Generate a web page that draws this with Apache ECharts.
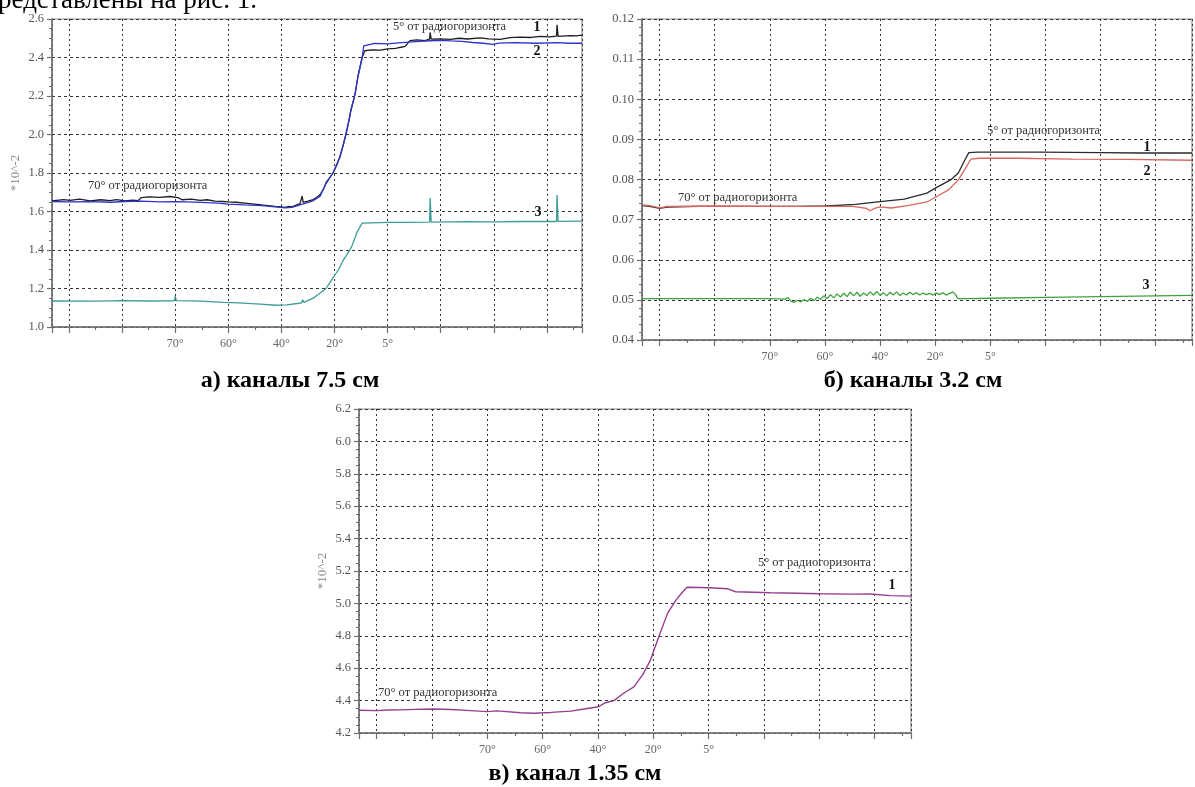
<!DOCTYPE html>
<html>
<head>
<meta charset="utf-8">
<script src="https://cdn.jsdelivr.net/npm/echarts@6/dist/echarts.min.js"></script>
<style>
  html, body { margin: 0; padding: 0; background: #fff; }
  #chart { width: 1195px; height: 787px; }
</style>
</head>
<body>
<div id="chart"></div>
<script>
// ---------- DATA ----------
// x values are grid-line indices (0..9); labelled grid lines below
const xTickLabels = ['', '', '70°', '60°', '40°', '20°', '5°', '', '', ''];

// а) 7.5 cm channels
const a1 = [[-0.32,1.655],[-0.1,1.662],[0.02,1.658],[0.2,1.664],[0.4,1.655],[0.6,1.661],[0.77,1.657],[0.9,1.662],[1.05,1.655],[1.2,1.659],[1.3,1.656],[1.36,1.672],[1.5,1.676],[1.71,1.673],[1.9,1.678],[2.05,1.672],[2.13,1.661],[2.3,1.664],[2.47,1.658],[2.6,1.661],[2.75,1.654],[2.9,1.652],[3.0,1.65],[3.15,1.648],[3.31,1.644],[3.45,1.64],[3.63,1.634],[3.75,1.631],[3.88,1.627],[4.0,1.624],[4.07,1.621],[4.15,1.626],[4.2,1.624],[4.3,1.636],[4.35,1.641],[4.38,1.645],[4.39,1.68],[4.41,1.648],[4.5,1.654],[4.58,1.66],[4.66,1.672],[4.73,1.688],[4.8,1.72],[4.84,1.75],[4.9,1.772],[4.97,1.80],[5.04,1.84],[5.10,1.885],[5.16,1.94],[5.22,2.01],[5.27,2.07],[5.31,2.13],[5.35,2.17],[5.39,2.215],[5.44,2.30],[5.48,2.35],[5.52,2.40],[5.57,2.435],[5.7,2.44],[5.86,2.438],[6.0,2.445],[6.15,2.447],[6.23,2.452],[6.33,2.458],[6.42,2.488],[6.55,2.492],[6.7,2.488],[6.79,2.496],[6.8,2.53],[6.82,2.495],[7.0,2.497],[7.18,2.494],[7.35,2.5],[7.5,2.496],[7.74,2.502],[7.9,2.497],[8.12,2.494],[8.3,2.503],[8.49,2.506],[8.7,2.504],[8.87,2.51],[9.05,2.507],[9.18,2.511],[9.19,2.57],[9.21,2.51],[9.44,2.514],[9.55,2.512],[9.66,2.516]];
const a2 = [[-0.32,1.652],[0.0,1.65],[0.4,1.651],[0.8,1.648],[1.05,1.652],[1.36,1.654],[1.7,1.65],[2.05,1.651],[2.5,1.647],[2.8,1.643],[3.0,1.638],[3.3,1.634],[3.63,1.63],[3.88,1.624],[4.07,1.619],[4.2,1.621],[4.35,1.634],[4.58,1.654],[4.73,1.68],[4.84,1.745],[4.97,1.80],[5.10,1.88],[5.22,2.005],[5.31,2.125],[5.39,2.215],[5.44,2.30],[5.52,2.40],[5.55,2.46],[5.57,2.47],[5.75,2.473],[6.0,2.471],[6.2,2.476],[6.4,2.48],[6.6,2.484],[6.8,2.487],[7.0,2.489],[7.2,2.486],[7.4,2.484],[7.6,2.478],[7.8,2.474],[7.97,2.468],[8.1,2.475],[8.4,2.477],[8.8,2.474],[9.2,2.477],[9.4,2.474],[9.66,2.474]];
const a3 = [[-0.32,1.135],[0.5,1.134],[1.0,1.137],[1.5,1.135],[1.98,1.136],[2.0,1.16],[2.02,1.137],[2.5,1.134],[2.9,1.128],[3.2,1.125],[3.6,1.119],[3.9,1.113],[4.1,1.115],[4.3,1.122],[4.38,1.126],[4.40,1.142],[4.42,1.128],[4.6,1.15],[4.7,1.17],[4.84,1.2],[4.97,1.255],[5.08,1.3],[5.15,1.34],[5.32,1.415],[5.42,1.49],[5.52,1.54],[5.7,1.541],[6.0,1.543],[6.4,1.544],[6.79,1.545],[6.8,1.67],[6.82,1.545],[7.5,1.547],[8.0,1.546],[8.5,1.548],[9.18,1.548],[9.19,1.685],[9.21,1.549],[9.66,1.55]];

// б) 3.2 cm channels
const b1 = [[-0.32,0.0735],[-0.18,0.0733],[0,0.0728],[0.14,0.0731],[0.71,0.0733],[1.78,0.0733],[2.49,0.0733],[3.02,0.0734],[3.55,0.0738],[3.96,0.0744],[4.44,0.0751],[4.85,0.0766],[5.01,0.0779],[5.28,0.0799],[5.42,0.0816],[5.51,0.0841],[5.61,0.0867],[5.77,0.0868],[6.93,0.0868],[7.99,0.0867],[8.70,0.0866],[9.66,0.0866]];
const b2 = [[-0.32,0.0737],[-0.18,0.0735],[0,0.0729],[0.14,0.0733],[1.0,0.0734],[2.0,0.0733],[3.0,0.0733],[3.5,0.0733],[3.75,0.0728],[3.82,0.0722],[3.9,0.0728],[4.0,0.0732],[4.2,0.0729],[4.5,0.0735],[4.85,0.0744],[4.98,0.0754],[5.24,0.0774],[5.42,0.0799],[5.51,0.0819],[5.65,0.0851],[5.8,0.0853],[6.5,0.0853],[7.5,0.0851],[8.5,0.085],[9.66,0.0848]];
const b3 = [[-0.32,0.0503],[1.0,0.0503],[2.0,0.0503],[2.28,0.0502],[2.33,0.0506],[2.38,0.0497],[2.44,0.0494],[2.5,0.0499],[2.56,0.0495],[2.62,0.0501],[2.68,0.0496],[2.74,0.0504],[2.8,0.0498],[2.86,0.0507],[2.92,0.0501],[2.98,0.051],[3.04,0.0503],[3.1,0.0513],[3.16,0.0505],[3.22,0.0515],[3.28,0.0507],[3.34,0.0517],[3.4,0.0508],[3.46,0.0519],[3.52,0.051],[3.58,0.0519],[3.64,0.0509],[3.7,0.0517],[3.76,0.0511],[3.82,0.052],[3.88,0.0512],[3.94,0.0521],[4.0,0.0511],[4.06,0.0518],[4.12,0.051],[4.18,0.0519],[4.24,0.0512],[4.3,0.052],[4.36,0.0511],[4.42,0.0517],[4.48,0.0512],[4.54,0.0519],[4.6,0.0513],[4.66,0.0518],[4.72,0.0512],[4.78,0.0517],[4.84,0.0513],[4.9,0.0516],[4.96,0.0512],[5.02,0.0517],[5.08,0.0513],[5.14,0.0518],[5.2,0.0512],[5.26,0.0516],[5.32,0.052],[5.37,0.0513],[5.41,0.0503],[5.6,0.0503],[6.0,0.0504],[7.0,0.0506],[8.0,0.0508],[9.0,0.051],[9.66,0.0511]];

// в) 1.35 cm channel
const c1 = [[-0.31,4.34],[0,4.338],[0.2,4.342],[0.43,4.343],[0.7,4.346],[1.01,4.348],[1.34,4.345],[1.7,4.338],[2.0,4.332],[2.1,4.335],[2.13,4.345],[2.16,4.336],[2.24,4.335],[2.6,4.325],[2.84,4.322],[3.15,4.327],[3.51,4.335],[3.78,4.35],[4.01,4.362],[4.12,4.385],[4.29,4.40],[4.47,4.447],[4.65,4.485],[4.81,4.56],[4.95,4.65],[5.08,4.775],[5.26,4.94],[5.41,5.02],[5.53,5.07],[5.61,5.10],[5.86,5.098],[6.1,5.095],[6.35,5.09],[6.49,5.072],[7.12,5.066],[7.6,5.063],[8.03,5.06],[8.57,5.057],[8.93,5.058],[9.29,5.048],[9.67,5.045]];

// ---------- CHART ----------
const serif = '"Liberation Serif", "DejaVu Serif", serif';
const chart = echarts.init(document.getElementById('chart'), null, { renderer: 'canvas' });

function xAxisCfg(gi) {
  return {
    type: 'value', gridIndex: gi, min: -0.32, max: 9.66,
    splitNumber: 10, minInterval: 1, maxInterval: 1,
    axisLine: { show: true, onZero: false, lineStyle: { color: '#6f6f6f', width: 1.5 } },
    axisTick: { show: true, inside: false, length: 6, lineStyle: { color: '#6f6f6f', width: 1.2 } },
    minorTick: { show: true, splitNumber: 2, length: 3, lineStyle: { color: '#6f6f6f', width: 1.2 } },
    axisLabel: {
      margin: 11, color: '#666', fontFamily: serif, fontSize: 12,
      showMinLabel: true, showMaxLabel: true,
      formatter: function (v) {
        const r = Math.round(v);
        if (Math.abs(v - r) > 1e-6) return '';
        return xTickLabels[r] || '';
      }
    },
    splitLine: { show: true, lineStyle: { color: '#333', type: [2, 3], width: 1 } }
  };
}
function yAxisCfg(gi, min, max, interval, minorSplit, digits, name) {
  return {
    type: 'value', gridIndex: gi, min: min, max: max, interval: interval,
    name: name || '', nameLocation: 'middle', nameGap: 30,
    nameTextStyle: { color: '#888', fontFamily: serif, fontSize: 13 },
    axisLine: { show: true, onZero: false, lineStyle: { color: '#6f6f6f', width: 1.5 } },
    axisTick: { show: true, inside: false, length: 5, lineStyle: { color: '#6f6f6f', width: 1.2 } },
    minorTick: { show: true, splitNumber: minorSplit, length: 3, lineStyle: { color: '#6f6f6f', width: 1 } },
    axisLabel: { margin: 8, color: '#555', fontFamily: serif, fontSize: 12.5,
      formatter: function (v) { return v.toFixed(digits); } },
    splitLine: { show: true, lineStyle: { color: '#333', type: [3, 3], width: 1 } }
  };
}
function line(data, color, xi, w) {
  return { type: 'line', data: data, xAxisIndex: xi, yAxisIndex: xi, showSymbol: false,
    symbol: 'none', lineStyle: { color: color, width: w || 1.3 }, animation: false, z: 3 };
}
function txt(text, x, y, opts) {
  opts = opts || {};
  return { type: 'text', x: x, y: y, z: 100, silent: true,
    style: { text: text, fill: opts.fill || '#333',
      font: opts.font || ('normal 12.5px ' + serif),
      textAlign: opts.align || 'left', align: opts.align || 'left',
      textVerticalAlign: 'middle', verticalAlign: 'middle' } };
}
const boldNum = 'bold 14px ' + serif;
const caption = 'bold 24px ' + serif;

chart.setOption({
  animation: false,
  backgroundColor: '#fff',
  grid: [
    { left: 52, top: 19, width: 530, height: 308, show: true, borderColor: '#8a8a8a', borderWidth: 1.2 },
    { left: 642, top: 19, width: 562, height: 321, show: true, borderColor: '#8a8a8a', borderWidth: 1.2 },
    { left: 359, top: 409, width: 552, height: 324, show: true, borderColor: '#8a8a8a', borderWidth: 1.2 }
  ],
  xAxis: [xAxisCfg(0), xAxisCfg(1), xAxisCfg(2)],
  yAxis: [
    yAxisCfg(0, 1.0, 2.6, 0.2, 4, 1, '*10^-2'),
    yAxisCfg(1, 0.04, 0.12, 0.01, 5, 2, ''),
    yAxisCfg(2, 4.2, 6.2, 0.2, 4, 1, '*10^-2')
  ],
  series: [
    line(a1, '#1e1e1e', 0), line(a2, '#2b36c9', 0), line(a3, '#3f9c97', 0),
    line(b1, '#2a2a2a', 1), line(b2, '#d9665e', 1), line(b3, '#3ea33e', 1),
    line(c1, '#963e90', 2, 1.4)
  ],
  graphic: [
    txt('редставлены на рис. 1.', -2, 1, { font: 'normal 27px ' + serif, fill: '#000' }),
    txt('5° от радиогоризонта', 393, 27),
    txt('1', 537, 27, { font: boldNum, fill: '#111', align: 'center' }),
    txt('2', 537, 51, { font: boldNum, fill: '#111', align: 'center' }),
    txt('3', 538, 212, { font: boldNum, fill: '#111', align: 'center' }),
    txt('70° от радиогоризонта', 88, 186),
    txt('70° от радиогоризонта', 678, 198),
    txt('5° от радиогоризонта', 987, 131),
    txt('1', 1147, 147, { font: boldNum, fill: '#111', align: 'center' }),
    txt('2', 1147, 171, { font: boldNum, fill: '#111', align: 'center' }),
    txt('3', 1146, 285, { font: boldNum, fill: '#111', align: 'center' }),
    txt('70° от радиогоризонта', 378, 693),
    txt('5° от радиогоризонта', 758, 563),
    txt('1', 892, 585, { font: boldNum, fill: '#111', align: 'center' }),
    txt('а) каналы 7.5 см', 290, 381, { font: caption, fill: '#000', align: 'center' }),
    txt('б) каналы 3.2 см', 913, 381, { font: caption, fill: '#000', align: 'center' }),
    txt('в) канал 1.35 см', 575, 774, { font: caption, fill: '#000', align: 'center' })
  ]
});
</script>
</body>
</html>
